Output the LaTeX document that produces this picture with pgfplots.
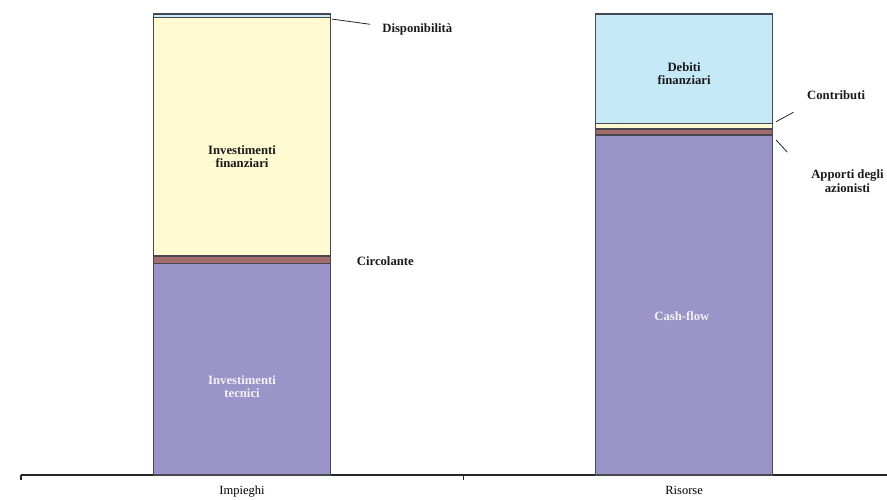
\documentclass[border=0pt]{standalone}
\usepackage{fontspec}
\setmainfont{Liberation Serif}
\usepackage{pgfplots}
\pgfplotsset{compat=1.18}

\definecolor{viola}{RGB}{155,148,200}
\definecolor{bordeaux}{RGB}{165,108,110}
\definecolor{crema}{RGB}{255,250,210}
\definecolor{celeste}{RGB}{198,233,248}
\definecolor{bordo}{RGB}{72,72,80}
\definecolor{bianco}{RGB}{242,242,246}

\tikzset{lbl/.style={font=\bfseries\fontsize{12.7}{13.3}\selectfont, align=center, text=black!90}}

\begin{document}
\begin{tikzpicture}
\begin{axis}[
  at={(0,0)}, anchor=south west,
  scale only axis, width=866pt, height=475pt,
  xmin=-0.5, xmax=1.459, ymin=0, ymax=103.04,
  enlargelimits=false,
  ybar stacked, bar width=0.4,
  axis x line*=bottom, axis y line=none, ytick=\empty,
  x axis line style={line width=1.1pt, color=black!85},
  xtick={0,1}, xticklabels={Impieghi,Risorse},
  major tick length=0pt,
  xticklabel style={font=\fontsize{12.5}{13}\selectfont, anchor=base, yshift=-19.5pt},
  extra x ticks={-0.5,0.5},
  extra x tick labels={},
  extra x tick style={major tick length=5pt, tick align=outside,
    tick style={line width=1.1pt, black!85}},
  clip=false,
]
% Impieghi (x=0) e Risorse (x=1), dal basso verso l'alto
\addplot[fill=viola,    draw=bordo, line width=1.5pt] coordinates {(0,45.9) (1,73.75)};
\addplot[fill=bordeaux, draw=bordo, line width=1.5pt] coordinates {(0,1.65) (1,1.3)};
\addplot[fill=crema,    draw=bordo, line width=1.5pt] coordinates {(0,51.7) (1,1.2)};
\addplot[fill=celeste,  draw=bordo, line width=1.5pt] coordinates {(0,0.75) (1,23.75)};

% posizioni delle etichette
\coordinate (invfin) at (axis cs:0,69.05);
\coordinate (invtec) at (axis cs:0,19.24);
\coordinate (cash)   at (axis cs:0.995,34.49);
\coordinate (debiti) at (axis cs:1,87.1);
\coordinate (disp)   at (axis cs:0.3964,96.7);
\coordinate (circ)   at (axis cs:0.3242,46.4);
\coordinate (contr)  at (axis cs:1.3439,82.43);
\coordinate (apport) at (axis cs:1.3695,63.77);

% richiami
\draw[line width=0.8pt, black!85] (axis cs:0.2036,98.9) -- (axis cs:0.2896,97.77);
\draw[line width=0.8pt, black!85] (axis cs:1.2081,76.64) -- (axis cs:1.2473,78.68);
\draw[line width=0.8pt, black!85] (axis cs:1.2081,72.67) -- (axis cs:1.2337,70.0);
\end{axis}

% etichette interne
\node[lbl] at (invfin) {Investimenti\\finanziari};
\node[lbl, text=bianco] at (invtec) {Investimenti\\tecnici};
\node[lbl, text=bianco] at (cash) {Cash-flow};
\node[lbl] at (debiti) {Debiti\\finanziari};
% etichette esterne
\node[lbl] at (disp) {Disponibilità};
\node[lbl] at (circ) {Circolante};
\node[lbl] at (contr) {Contributi};
\node[lbl] at (apport) {Apporti degli\\azionisti};

\pgfresetboundingbox
\path[use as bounding box] (-21pt,-24pt) rectangle (866pt,475pt);
\end{tikzpicture}
\end{document}
